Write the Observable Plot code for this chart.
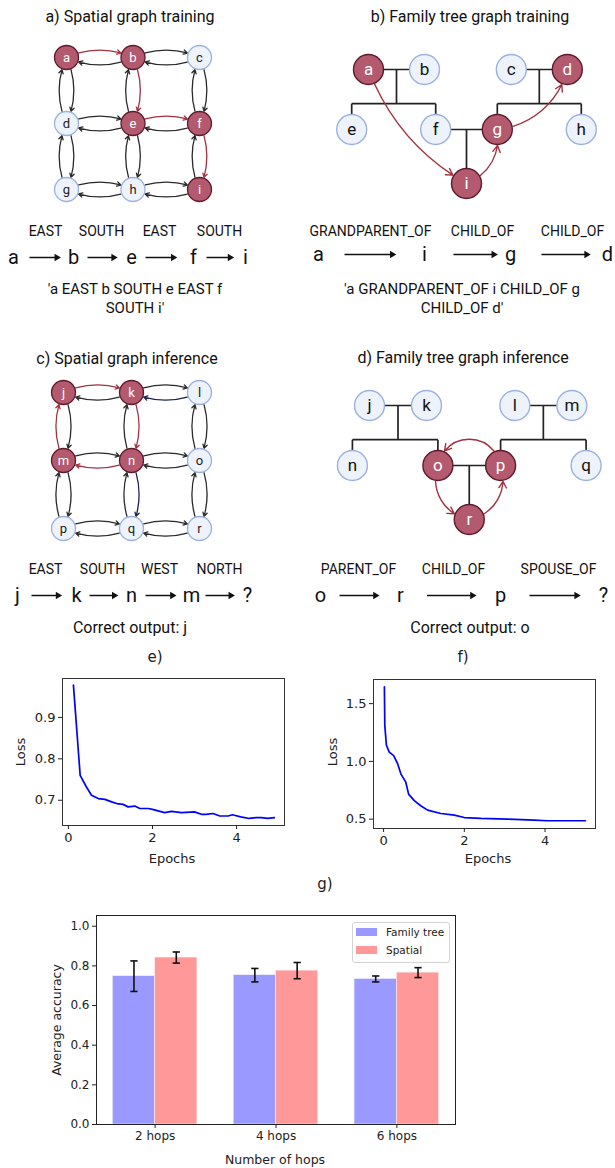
<!DOCTYPE html>
<html><head><meta charset="utf-8">
<script src="https://cdn.jsdelivr.net/npm/d3@7"></script>
<script src="https://cdn.jsdelivr.net/npm/@observablehq/plot@0.6"></script>
<style>
body{margin:0;background:#fff}
#root{position:relative;width:615px;height:1168px;overflow:hidden;font-family:Roboto,"Noto Sans",sans-serif;color:#111;background:#fff}
.lbl{position:absolute;transform:translate(-50%,-50%);white-space:nowrap;line-height:1}
</style></head><body><div id="root"></div>
<script>
// ---------------- data ----------------
const spatialTrainNodes = ["a","b","c","d","e","f","g","h","i"];
const spatialTrainActive = ["a","b","e","f","i"];
const spatialTrainPath = [["a","b"],["b","e"],["e","f"],["f","i"]];
const spatialTrainTokens = ["a","b","e","f","i"];
const spatialTrainRelations = ["EAST","SOUTH","EAST","SOUTH"];

const spatialInferNodes = ["j","k","l","m","n","o","p","q","r"];
const spatialInferActive = ["j","k","m","n"];
const spatialInferPath = [["j","k"],["k","n"],["n","m"],["m","j"]];
const spatialInferDark = [["l","k"],["n","q"]];
const spatialInferTokens = ["j","k","n","m","?"];
const spatialInferRelations = ["EAST","SOUTH","WEST","NORTH"];

// family tree layout: slot (horizontal) and generation (vertical) of each person
const familySlots = [0, 2, 5.1, 7.1, -0.6, 2.4, 4.6, 7.6, 3.5];
const familyGenerations = [0, 0, 0, 0, 1, 1, 1, 1, 1.9];
// unions: [parent indices, child indices]
const familyUnions = [[[0,1],[4,5]], [[2,3],[6,7]], [[5,6],[8]]];

const familyTrainNodes = ["a","b","c","d","e","f","g","h","i"];
const familyTrainActive = ["a","d","g","i"];
const familyTrainPath = [["a","i"],["i","g"],["g","d"]];
const familyTrainTokens = ["a","i","g","d"];
const familyTrainRelations = ["GRANDPARENT_OF","CHILD_OF","CHILD_OF"];

const familyInferNodes = ["j","k","l","m","n","o","p","q","r"];
const familyInferActive = ["o","p","r"];
const familyInferPath = [["p","o"],["o","r"],["r","p"]];
const familyInferTokens = ["o","r","p","?"];
const familyInferRelations = ["PARENT_OF","CHILD_OF","SPOUSE_OF"];

// e) loss curve, spatial
const epochsSpatial = [0.12,0.28,0.43,0.55,0.71,0.87,1.03,1.15,1.30,1.42,1.58,1.70,1.90,2.00,2.29,2.45,2.69,3.00,3.16,3.28,3.44,3.60,3.80,3.90,4.10,4.30,4.47,4.59,4.74,4.90];
const lossSpatial = [0.978,0.760,0.732,0.712,0.704,0.702,0.696,0.692,0.690,0.684,0.686,0.680,0.680,0.678,0.670,0.673,0.670,0.672,0.666,0.666,0.668,0.662,0.662,0.665,0.660,0.656,0.658,0.658,0.656,0.658];
// f) loss curve, family tree
const epochsFamily = [0.02,0.03,0.07,0.14,0.25,0.35,0.43,0.55,0.62,0.76,0.92,1.09,1.42,1.75,2.00,2.41,3.07,3.73,4.06,5.00];
const lossFamily = [1.645,1.31,1.14,1.08,1.05,0.978,0.89,0.82,0.717,0.66,0.616,0.578,0.549,0.535,0.514,0.506,0.500,0.491,0.486,0.486];

// g) accuracy
const hops = ["2 hops","4 hops","6 hops"];
const familyAcc = [0.748,0.753,0.734];
const familyErr = [0.077,0.034,0.015];
const spatialAcc = [0.842,0.776,0.766];
const spatialErr = [0.028,0.041,0.025];

// ---------------- helpers ----------------
const root = document.getElementById("root");
const RED = "#b35a6e", RED_STROKE = "#5e1a2a", LIGHT = "#edf2fb", LIGHT_STROKE = "#9bb2e0";
const ARROW_RED = "#a3303f";

function place(svg, x, y) {
  svg.style.position = "absolute";
  svg.style.left = x + "px";
  svg.style.top = y + "px";
  svg.style.background = "transparent";
  svg.style.maxWidth = "none";
  root.appendChild(svg);
}
function label(text, x, y, size, extra) {
  const d = document.createElement("div");
  d.className = "lbl";
  d.textContent = text;
  d.style.left = x + "px";
  d.style.top = y + "px";
  d.style.fontSize = size + "px";
  if (extra) Object.assign(d.style, extra);
  root.appendChild(d);
  return d;
}

function gridPanel(nodes, active, redPath, darkPath, xr, yr, w, h) {
  const pos = new Map(nodes.map((id, i) => [id, {col: i % 3, row: Math.floor(i / 3)}]));
  const edges = [];
  nodes.forEach((id, i) => {
    const c = i % 3, r = Math.floor(i / 3);
    if (c < 2) { edges.push([id, nodes[i + 1]]); edges.push([nodes[i + 1], id]); }
    if (r < 2) { edges.push([id, nodes[i + 3]]); edges.push([nodes[i + 3], id]); }
  });
  const key = e => e[0] + ">" + e[1];
  const special = new Set([...redPath, ...darkPath].map(key));
  const plain = edges.filter(e => !special.has(key(e)));
  const ao = color => ({
    x1: e => pos.get(e[0]).col, y1: e => pos.get(e[0]).row,
    x2: e => pos.get(e[1]).col, y2: e => pos.get(e[1]).row,
    bend: 25, insetStart: 13, insetEnd: 13, headLength: 5,
    stroke: color, strokeWidth: 1.3
  });
  const nd = nodes.map((id, i) => ({id, col: i % 3, row: Math.floor(i / 3), on: active.includes(id)}));
  return Plot.plot({
    width: w, height: h, margin: 0,
    style: {fontFamily: "Roboto", background: "transparent"},
    x: {domain: [0, 2], range: xr, axis: null},
    y: {domain: [0, 2], range: yr, axis: null},
    marks: [
      Plot.arrow(plain, ao("#2a2a2a")),
      Plot.arrow(darkPath, ao("#1c2150")),
      Plot.arrow(redPath, ao(ARROW_RED)),
      Plot.dot(nd.filter(d => d.on), {x: "col", y: "row", r: 12, fill: RED, stroke: RED_STROKE, strokeWidth: 1.3}),
      Plot.dot(nd.filter(d => !d.on), {x: "col", y: "row", r: 12, fill: LIGHT, stroke: LIGHT_STROKE, strokeWidth: 1.3}),
      Plot.text(nd.filter(d => d.on), {x: "col", y: "row", text: "id", fill: "white", fontSize: 13}),
      Plot.text(nd.filter(d => !d.on), {x: "col", y: "row", text: "id", fill: "#222", fontSize: 13})
    ]
  });
}

function familyPanel(names, active, path, bends, xr, yr, w, h) {
  const nd = names.map((id, i) => ({id, slot: familySlots[i], gen: familyGenerations[i], on: active.includes(id)}));
  const byId = new Map(nd.map(d => [d.id, d]));
  const segs = [];
  for (const [ps, cs] of familyUnions) {
    const [p1, p2] = ps.map(i => nd[i]);
    const L = p1.gen, mid = (p1.slot + p2.slot) / 2;
    segs.push({x1: p1.slot, y1: L, x2: p2.slot, y2: L});
    const kids = cs.map(i => nd[i]);
    if (kids.length === 1) {
      segs.push({x1: mid, y1: L, x2: mid, y2: kids[0].gen});
    } else {
      const b = L + 0.57;
      segs.push({x1: mid, y1: L, x2: mid, y2: b});
      segs.push({x1: d3.min(kids, k => k.slot), y1: b, x2: d3.max(kids, k => k.slot), y2: b});
      for (const k of kids) segs.push({x1: k.slot, y1: b, x2: k.slot, y2: k.gen});
    }
  }
  const arrows = path.map((e, i) => Plot.arrow([e], {
    x1: e => byId.get(e[0]).slot, y1: e => byId.get(e[0]).gen,
    x2: e => byId.get(e[1]).slot, y2: e => byId.get(e[1]).gen,
    bend: bends[i], insetStart: 16, insetEnd: 16, headLength: 8,
    stroke: ARROW_RED, strokeWidth: 1.4
  }));
  return Plot.plot({
    width: w, height: h, margin: 0,
    style: {fontFamily: "Roboto", background: "transparent"},
    x: {domain: [0, 2], range: xr, axis: null},
    y: {domain: [0, 1], range: yr, axis: null},
    marks: [
      Plot.link(segs, {x1: "x1", y1: "y1", x2: "x2", y2: "y2", stroke: "#222", strokeWidth: 1.7}),
      ...arrows,
      Plot.dot(nd.filter(d => d.on), {x: "slot", y: "gen", r: 15, fill: RED, stroke: RED_STROKE, strokeWidth: 1.4}),
      Plot.dot(nd.filter(d => !d.on), {x: "slot", y: "gen", r: 15, fill: LIGHT, stroke: LIGHT_STROKE, strokeWidth: 1.4}),
      Plot.text(nd.filter(d => d.on), {x: "slot", y: "gen", text: "id", fill: "white", fontSize: 17}),
      Plot.text(nd.filter(d => !d.on), {x: "slot", y: "gen", text: "id", fill: "#111", fontSize: 17})
    ]
  });
}

// xr: polylinear range, one pixel stop per token / relation slot
function seqPanel(tokens, relations, xr, yr, w, h) {
  const tok = tokens.map((t, i) => ({t, idx: 2 * i}));
  const rel = relations.map((t, i) => ({t, idx: 2 * i + 1}));
  return Plot.plot({
    width: w, height: h, margin: 0,
    style: {fontFamily: "Roboto", background: "transparent"},
    x: {domain: d3.range(2 * tokens.length - 1), range: xr, type: "linear", axis: null},
    y: {domain: [0, 1], range: yr, axis: null},
    marks: [
      Plot.text(rel, {x: "idx", y: 0, text: "t", fontSize: 14, fill: "#111"}),
      Plot.text(tok, {x: "idx", y: 1, text: "t", fontSize: 20, fill: "#111"}),
      Plot.link(rel, {x1: d => d.idx - 0.5, x2: d => d.idx + 0.4, y1: 1, y2: 1, stroke: "#111", strokeWidth: 1.5}),
      Plot.dot(rel, {x: d => d.idx + 0.4, y: 1, symbol: "triangle2", r: 3.5, rotate: 90, fill: "#111"})
    ]
  });
}

// ---------------- diagrams ----------------
place(gridPanel(spatialTrainNodes, spatialTrainActive, spatialTrainPath, [], [66, 199], [57, 189], 300, 215), 0, 0);
place(familyPanel(familyTrainNodes, familyTrainActive, familyTrainPath, [-20, -40, -35], [68, 124], [69, 129], 315, 215), 300, 0);
place(gridPanel(spatialInferNodes, spatialInferActive, spatialInferPath, spatialInferDark, [63, 199], [72, 208], 300, 230), 0, 320);
place(familyPanel(familyInferNodes, familyInferActive, familyInferPath, [-80, -50, -50], [69, 126], [85, 145], 315, 230), 300, 320);

place(seqPanel(spatialTrainTokens, spatialTrainRelations, [13, 45, 73, 101, 131, 159, 193, 219, 245], [16, 42], 300, 60), 0, 215);
place(seqPanel(familyTrainTokens, familyTrainRelations, [18, 70, 124, 182, 210, 272, 307], [16, 39], 315, 60), 300, 215);
place(seqPanel(spatialInferTokens, spatialInferRelations, [17, 45, 76, 102, 131, 159, 191, 219, 247], [19, 45], 300, 60), 0, 550);
place(seqPanel(familyInferTokens, familyInferRelations, [20, 58, 100, 153, 200, 258, 303], [19, 45], 315, 60), 300, 550);

label("a) Spatial graph training", 130, 17, 16);
label("b) Family tree graph training", 470, 17, 16);
label("c) Spatial graph inference", 127, 359, 16);
label("d) Family tree graph inference", 463, 358, 16);
label("'a EAST b SOUTH e EAST f", 135, 289, 15);
label("SOUTH i'", 135, 308, 15);
label("'a GRANDPARENT_OF i CHILD_OF g", 462, 289, 15);
label("CHILD_OF d'", 462, 308, 15);
label("Correct output: j", 130, 628, 16);
label("Correct output: o", 470, 628, 16);

// ---------------- loss curves ----------------
function lossChart(ex, ly, xdom, ydom, yticks, m) {
  return Plot.plot({
    width: m.w, height: 220,
    marginLeft: m.l, marginRight: m.r, marginTop: m.t, marginBottom: m.b,
    style: {fontFamily: "DejaVu Sans", fontSize: "13px", background: "transparent", color: "#222"},
    x: {domain: xdom},
    y: {domain: ydom},
    marks: [
      Plot.line(ex.map((x, i) => [x, ly[i]]), {x: d => d[0], y: d => d[1], stroke: "#0000ff", strokeWidth: 1.7}),
      Plot.frame({stroke: "#333", strokeWidth: 1}),
      Plot.axisX([0, 2, 4], {tickSize: 4, tickPadding: 3, fontSize: 13, label: null}),
      Plot.axisY(yticks, {tickSize: 4, tickPadding: 3, fontSize: 13, label: null, tickFormat: d3.format(".1f")})
    ]
  });
}
place(lossChart(epochsSpatial, lossSpatial, [-0.14, 5.14], [0.639, 0.994], [0.7, 0.8, 0.9], {w: 300, l: 62, r: 16, t: 18, b: 55}), 0, 660);
place(lossChart(epochsFamily, lossFamily, [-0.25, 5.25], [0.419, 1.709], [0.5, 1.0, 1.5], {w: 315, l: 73, r: 20, t: 19, b: 52}), 300, 660);

const mpl = {fontFamily: "DejaVu Sans, sans-serif", color: "#222"};
const rot = Object.assign({transform: "translate(-50%,-50%) rotate(-90deg)"}, mpl);
label("e)", 155, 657, 15, mpl);
label("f)", 463, 657, 15, mpl);
label("Loss", 20, 752, 13, rot);
label("Epochs", 172, 858, 13, mpl);
label("Loss", 332, 752, 13, rot);
label("Epochs", 488, 858, 13, mpl);

// ---------------- accuracy bars ----------------
const famRows = hops.map((h, i) => ({i, v: familyAcc[i], e: familyErr[i]}));
const spaRows = hops.map((h, i) => ({i, v: spatialAcc[i], e: spatialErr[i]}));
const W = 0.35, CAP = 0.03;
const caps = [...famRows.map(d => ({c: d.i - W / 2, y: d.v - d.e})), ...famRows.map(d => ({c: d.i - W / 2, y: d.v + d.e})),
              ...spaRows.map(d => ({c: d.i + W / 2, y: d.v - d.e})), ...spaRows.map(d => ({c: d.i + W / 2, y: d.v + d.e}))];
const bars = Plot.plot({
  width: 615, height: 273,
  marginLeft: 96, marginRight: 160, marginTop: 20, marginBottom: 44,
  style: {fontFamily: "DejaVu Sans", fontSize: "12px", background: "transparent", color: "#222"},
  x: {domain: [-0.485, 2.485]},
  y: {domain: [0, 1.054]},
  marks: [
    Plot.rect(famRows, {x1: d => d.i - W, x2: "i", y1: 0, y2: "v", fill: "#9999ff", stroke: "#eeeeff", strokeWidth: 0.6}),
    Plot.rect(spaRows, {x1: "i", x2: d => d.i + W, y1: 0, y2: "v", fill: "#ff9999", stroke: "#ffeeee", strokeWidth: 0.6}),
    Plot.link(famRows, {x1: d => d.i - W / 2, x2: d => d.i - W / 2, y1: d => d.v - d.e, y2: d => d.v + d.e, stroke: "#111", strokeWidth: 1.6}),
    Plot.link(spaRows, {x1: d => d.i + W / 2, x2: d => d.i + W / 2, y1: d => d.v - d.e, y2: d => d.v + d.e, stroke: "#111", strokeWidth: 1.6}),
    Plot.link(caps, {x1: d => d.c - CAP, x2: d => d.c + CAP, y1: "y", y2: "y", stroke: "#111", strokeWidth: 1.6}),
    Plot.frame({stroke: "#222", strokeWidth: 1}),
    Plot.axisX([0, 1, 2], {tickSize: 4, tickPadding: 3, fontSize: 12, label: null, tickFormat: i => hops[i]}),
    Plot.axisY([0, 0.2, 0.4, 0.6, 0.8, 1.0], {tickSize: 4, tickPadding: 3, fontSize: 12, label: null, tickFormat: d3.format(".1f")})
  ]
});
place(bars, 0, 895);

label("g)", 325, 884, 15, mpl);
label("Average accuracy", 57, 1020, 12.5, rot);
label("Number of hops", 275, 1160, 12.5, mpl);

// legend
const box = document.createElement("div");
Object.assign(box.style, {position: "absolute", left: "352px", top: "922px", width: "96px", height: "39px",
  border: "1px solid #d4d4d4", borderRadius: "3px", background: "rgba(255,255,255,0.85)"});
root.appendChild(box);
[["Family tree", "#9999ff", 932], ["Spatial", "#ff9999", 950]].forEach(([t, c, y]) => {
  const p = document.createElement("div");
  Object.assign(p.style, {position: "absolute", left: "356px", top: (y - 4) + "px", width: "21px", height: "8px", background: c});
  root.appendChild(p);
  label(t, 386, y, 10.5, Object.assign({transform: "translate(0,-50%)"}, mpl));
});
</script></body></html>
